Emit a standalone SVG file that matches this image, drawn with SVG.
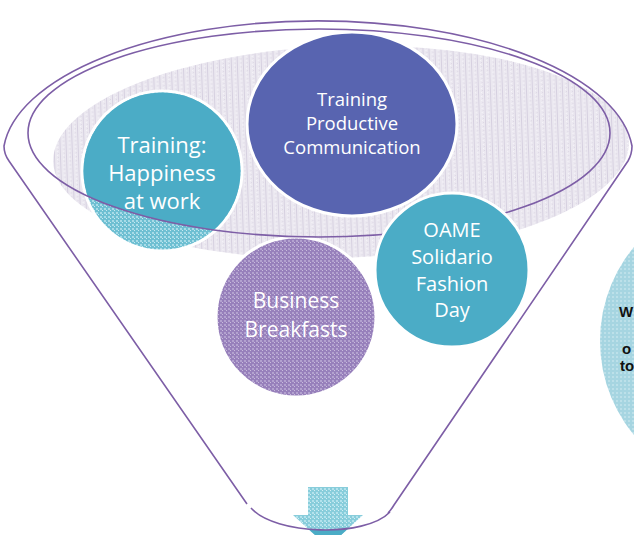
<svg xmlns="http://www.w3.org/2000/svg" width="634" height="535" viewBox="0 0 634 535">
<style>
.line{fill:none;stroke:#7d5ea6;stroke-width:1.6}
.ring{stroke:#ffffff;stroke-width:3}
.lbl{font-family:"Open Sans","Liberation Sans",sans-serif;fill:#ffffff;text-anchor:middle}
.dark{font-family:"Liberation Sans",Arial,sans-serif;font-weight:bold;font-size:15px;fill:#111111}
</style>
<defs>
<pattern id="pGray" width="6" height="4" patternUnits="userSpaceOnUse">
<rect width="6" height="4" fill="#ebe8f0"/>
<rect x="0" y="0" width="1" height="4" fill="#d6d0e0"/>
<rect x="3" y="1" width="1" height="1" fill="#f7f5fa"/>
<rect x="4" y="3" width="1" height="1" fill="#dcd6e4"/>
</pattern>
<pattern id="pPurple" width="4" height="4" patternUnits="userSpaceOnUse">
<rect width="4" height="4" fill="#9780bb"/>
<rect x="0" y="0" width="2" height="2" fill="#b3a2cf"/>
<rect x="2" y="2" width="1" height="1" fill="#c9bcdd"/>
</pattern>
<pattern id="pTeal" width="4" height="4" patternUnits="userSpaceOnUse">
<rect width="4" height="4" fill="#6ebfd2"/>
<rect x="0" y="0" width="2" height="2" fill="#a8dbe7"/>
<rect x="2" y="2" width="1" height="1" fill="#c8eaf1"/>
</pattern>
<pattern id="pLight" width="4" height="4" patternUnits="userSpaceOnUse">
<rect width="4" height="4" fill="#a6d5e1"/>
<rect x="0" y="0" width="2" height="2" fill="#bce0e9"/>
</pattern>
<pattern id="pArrow" width="4" height="4" patternUnits="userSpaceOnUse">
<rect width="4" height="4" fill="#88cddb"/>
<rect x="0" y="0" width="2" height="2" fill="#b4e2ec"/>
<rect x="2" y="2" width="1" height="1" fill="#d4eff4"/>
</pattern>
<clipPath id="innerClip"><ellipse cx="319" cy="133" rx="291" ry="104"/></clipPath>
<clipPath id="belowCurve"><path d="M 250,508 C 275,535 365,538 390,512 L 390,560 L 250,560 Z"/></clipPath>
</defs>

<g id="funnel-surface">
<ellipse cx="341" cy="152" rx="288" ry="106" transform="rotate(-2 341 152)" fill="url(#pGray)"/>
</g>

<g id="node-right">
<circle cx="747" cy="341" r="147" fill="url(#pLight)"/>
<text class="dark" x="619" y="317">W</text>
<text class="dark" x="622" y="354" font-size="14">o</text>
<text class="dark" x="620" y="371" font-size="13.5">to</text>
</g>

<g id="node-happiness">
<circle cx="162" cy="171" r="80" class="ring" fill="url(#pTeal)"/>
<circle cx="162" cy="171" r="78.5" fill="#4bacc6" clip-path="url(#innerClip)"/>
<text class="lbl" font-size="22" x="162" y="153">Training:</text>
<text class="lbl" font-size="22" x="162" y="181">Happiness</text>
<text class="lbl" font-size="22" x="162" y="209">at work</text>
</g>

<g id="node-communication">
<ellipse cx="352" cy="124" rx="105" ry="92" class="ring" fill="#5864b0"/>
<text class="lbl" font-size="18.5" x="352" y="106">Training</text>
<text class="lbl" font-size="18.5" x="352" y="130">Productive</text>
<text class="lbl" font-size="18.5" x="352" y="154">Communication</text>
</g>

<g id="node-breakfasts">
<circle cx="296" cy="317" r="80" class="ring" fill="url(#pPurple)"/>
<text class="lbl" font-size="21" x="296" y="308" fill="#f3eff8">Business</text>
<text class="lbl" font-size="21" x="296" y="337" fill="#f3eff8">Breakfasts</text>
</g>

<g id="connectors">
<g id="funnel-outline">
<ellipse class="line" cx="319" cy="133" rx="291" ry="104"/>
<path class="line" d="M 247,504 L 9,161 Q 4,154 4,146 A 315 136 0 0 1 632,146 Q 632,154 628,161 L 394,505 Q 391,510 388,513"/>
</g>
<g id="arrow">
<path d="M 308,487 L 348,487 L 348,515 L 363,515 L 328,547 L 293,515 L 308,515 Z" fill="url(#pArrow)"/>
<path d="M 308,487 L 348,487 L 348,515 L 363,515 L 328,547 L 293,515 L 308,515 Z" fill="#4bacc6" clip-path="url(#belowCurve)"/>
<path class="line" d="M 251,508 C 275,535 365,538 390,512"/>
</g>
</g>

<g id="node-oame">
<circle cx="452" cy="270" r="77" class="ring" fill="#4bacc6"/>
<text class="lbl" font-size="20" x="452" y="237">OAME</text>
<text class="lbl" font-size="20" x="452" y="264">Solidario</text>
<text class="lbl" font-size="20" x="452" y="291">Fashion</text>
<text class="lbl" font-size="20" x="452" y="317">Day</text>
</g>
</svg>
